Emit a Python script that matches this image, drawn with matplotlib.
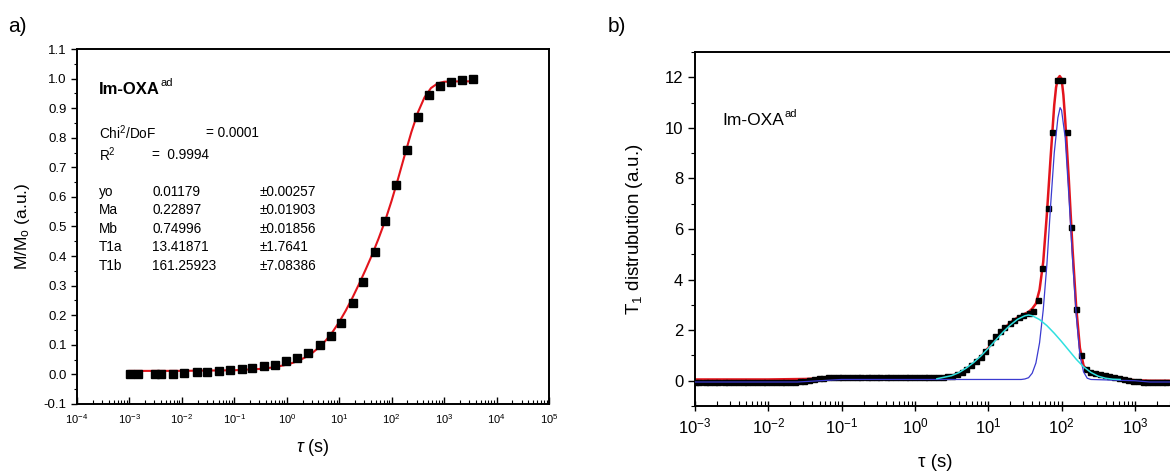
import numpy as np
import matplotlib
matplotlib.use("Agg")
import matplotlib.pyplot as plt
from matplotlib.ticker import LogLocator, MultipleLocator, NullFormatter, FixedLocator

plt.rcParams["font.family"] = ["Liberation Sans", "DejaVu Sans"]
plt.rcParams["mathtext.fontset"] = "custom"
plt.rcParams["mathtext.rm"] = "Liberation Sans"
plt.rcParams["mathtext.it"] = "Liberation Sans:italic"
plt.rcParams["mathtext.bf"] = "Liberation Sans:bold"
plt.rcParams["axes.unicode_minus"] = False

RED, BLUE, CYAN = "#e3141c", "#3a3ad0", "#30e0e0"

# ---------- panel a: magnetisation recovery (log10 tau, M/Mo) ----------
a_logtau = [-2.98, -2.83, -2.51, -2.40, -2.16, -1.95, -1.71, -1.52, -1.30, -1.08,
            -0.86, -0.66, -0.44, -0.23, -0.01, 0.20, 0.41, 0.63, 0.84, 1.03,
            1.26, 1.46, 1.68, 1.88, 2.09, 2.30, 2.51, 2.72, 2.93, 3.14, 3.35, 3.56]
a_m = [0.0, 0.0, 0.002, 0.002, 0.002, 0.005, 0.007, 0.007, 0.010, 0.014,
       0.018, 0.022, 0.028, 0.033, 0.047, 0.055, 0.074, 0.10, 0.13, 0.174,
       0.24, 0.313, 0.414, 0.52, 0.64, 0.76, 0.87, 0.945, 0.975, 0.99, 0.995, 0.998]
# fit line
a_fit_logtau = [-3, -2, -1, -0.5, -0.25, 0, 0.125, 0.25, 0.375, 0.5, 0.625, 0.75, 0.875,
                1, 1.125, 1.25, 1.375, 1.5, 1.625, 1.75, 1.875, 2, 2.125, 2.25, 2.375,
                2.5, 2.625, 2.75, 2.875, 3, 3.25, 3.56]
a_fit = [0.0118, 0.0120, 0.0140, 0.0186, 0.0238, 0.0329, 0.0397, 0.0485, 0.0598, 0.0745,
         0.0929, 0.1159, 0.1439, 0.1772, 0.2156, 0.2582, 0.3042, 0.3527, 0.4035, 0.4589,
         0.5188, 0.5874, 0.6628, 0.7418, 0.8184, 0.8853, 0.9359, 0.9679, 0.9836, 0.9893,
         0.9905, 0.9907]
fit_names = ["yo", "Ma", "Mb", "T1a", "T1b"]
fit_vals = ["0.01179", "0.22897", "0.74996", "13.41871", "161.25923"]
fit_errs = ["\u00b10.00257", "\u00b10.01903", "\u00b10.01856", "\u00b11.7641", "\u00b17.08386"]

# ---------- panel b: T1 distribution (log10 tau) ----------
b_logtau = [-3.00, -2.94, -2.87, -2.81, -2.74, -2.68, -2.61, -2.55, -2.48, -2.42,
            -2.35, -2.29, -2.22, -2.16, -2.09, -2.03, -1.96, -1.90, -1.83, -1.77,
            -1.70, -1.64, -1.57, -1.51, -1.44, -1.38, -1.31, -1.25, -1.18, -1.12,
            -1.05, -0.99, -0.92, -0.86, -0.79, -0.73, -0.66, -0.60, -0.53, -0.47,
            -0.40, -0.34, -0.27, -0.21, -0.14, -0.08, -0.01, 0.05, 0.12, 0.18,
            0.25, 0.31, 0.38, 0.44, 0.51, 0.57, 0.64, 0.70, 0.77, 0.83,
            0.90, 0.96, 1.03, 1.09, 1.16, 1.22, 1.29, 1.35, 1.42, 1.48,
            1.55, 1.61, 1.68, 1.74, 1.81, 1.87, 1.94, 2.00, 2.07, 2.13,
            2.20, 2.26, 2.33, 2.39, 2.46, 2.52, 2.59, 2.65, 2.72, 2.78,
            2.85, 2.91, 2.98, 3.04, 3.11, 3.17, 3.24, 3.30, 3.37, 3.43, 3.50]
b_dist = [-0.05, -0.05, -0.05, -0.05, -0.05, -0.05, -0.05, -0.05, -0.05, -0.05,
          -0.05, -0.05, -0.05, -0.05, -0.05, -0.05, -0.05, -0.05, -0.05, -0.05,
          -0.05, -0.05, -0.03, 0.0, 0.04, 0.07, 0.10, 0.12, 0.13, 0.14,
          0.15, 0.15, 0.15, 0.15, 0.15, 0.15, 0.15, 0.15, 0.15, 0.15,
          0.15, 0.15, 0.15, 0.15, 0.15, 0.15, 0.15, 0.15, 0.15, 0.15,
          0.15, 0.15, 0.16, 0.17, 0.20, 0.26, 0.33, 0.46, 0.62, 0.80,
          0.95, 1.18, 1.53, 1.77, 1.97, 2.12, 2.28, 2.40, 2.52, 2.60,
          2.66, 2.76, 3.20, 4.45, 6.83, 9.84, 11.9, 11.9, 9.84, 6.07,
          2.83, 1.00, 0.46, 0.36, 0.30, 0.26, 0.24, 0.20, 0.16, 0.12,
          0.07, 0.04, 0.0, -0.03, -0.05, -0.05, -0.05, -0.05, -0.05, -0.05, -0.05]
b_red_logtau = [-3.0, -2.0, -1.5, -1.0, 0.0, 0.3, 0.5, 0.6, 0.7, 0.8, 0.9, 1.0, 1.1, 1.2,
                1.3, 1.4, 1.5, 1.55, 1.6, 1.65, 1.7, 1.75, 1.8, 1.85, 1.9, 1.925, 1.95,
                1.975, 2.0, 2.025, 2.05, 2.1, 2.15, 2.2, 2.25, 2.3, 2.35, 2.4, 2.5, 2.6,
                2.7, 2.8, 2.9, 3.0, 3.2, 3.6]
b_red = [0.05, 0.05, 0.07, 0.12, 0.13, 0.15, 0.20, 0.28, 0.45, 0.68, 0.95, 1.30, 1.65, 2.0,
         2.3, 2.5, 2.65, 2.72, 2.85, 3.05, 3.6, 4.7, 6.6, 8.8, 10.9, 11.6, 11.95,
         12.05, 11.95, 11.3, 10.3, 7.9, 5.2, 2.9, 1.3, 0.6, 0.4, 0.33, 0.25, 0.18,
         0.12, 0.08, 0.05, 0.02, 0.0, 0.0]
b_blue_logtau = [-3.0, -1.6, -1.0, 1.45, 1.5, 1.55, 1.6, 1.65, 1.7, 1.75, 1.8, 1.85, 1.9,
                 1.95, 1.98, 2.0, 2.05, 2.1, 2.15, 2.2, 2.25, 2.3, 2.35, 2.4, 3.0, 3.2, 3.6]
b_blue = [-0.05, -0.05, 0.05, 0.05, 0.07, 0.12, 0.3, 0.7, 1.5, 2.8, 4.6, 6.9, 9.0,
          10.4, 10.8, 10.7, 9.6, 7.3, 4.8, 2.6, 1.0, 0.35, 0.1, 0.05, 0.0, -0.05, -0.05]
b_cyan_logtau = [0.3, 0.5, 0.6, 0.7, 0.8, 0.9, 1.0, 1.1, 1.2, 1.3, 1.4, 1.5, 1.55, 1.6,
                 1.7, 1.8, 1.9, 2.0, 2.1, 2.2, 2.3, 2.4, 2.5, 2.6, 2.7, 2.8]
b_cyan = [0.08, 0.2, 0.32, 0.5, 0.72, 0.98, 1.28, 1.6, 1.92, 2.2, 2.43, 2.57, 2.6, 2.57,
          2.42, 2.18, 1.88, 1.55, 1.2, 0.85, 0.55, 0.33, 0.18, 0.1, 0.06, 0.05]
b_xticks = [1e-3, 1e-2, 1e-1, 1e0, 1e1, 1e2, 1e3]

fig = plt.figure(figsize=(11.7, 4.73), dpi=100)

# ---- a) ----
ax = fig.add_axes([0.0658, 0.1459, 0.4034, 0.7505])
ax.plot(10 ** np.array(a_fit_logtau), a_fit, color=RED, lw=1.5, zorder=2)
ax.plot(10 ** np.array(a_logtau), a_m, "s", color="black", ms=5.5, zorder=3)
ax.set_xscale("log")
ax.set_xlim(1e-4, 1e5)
ax.set_ylim(-0.1, 1.1)
ax.xaxis.set_major_locator(LogLocator(base=10, numticks=20))
ax.xaxis.set_minor_locator(LogLocator(base=10, subs=np.arange(2, 10), numticks=20))
ax.xaxis.set_minor_formatter(NullFormatter())
ax.yaxis.set_major_locator(MultipleLocator(0.1))
ax.yaxis.set_minor_locator(MultipleLocator(0.05))
ax.yaxis.set_major_formatter(matplotlib.ticker.FormatStrFormatter("%.1f"))
ax.tick_params(axis="x", which="major", direction="in", length=5, width=1, labelsize=8, pad=6)
ax.tick_params(axis="x", which="minor", direction="in", length=3, width=0.8)
ax.tick_params(axis="y", which="major", direction="out", length=4, width=1, labelsize=9.5)
ax.tick_params(axis="y", which="minor", direction="out", length=2.5, width=0.8)
for s in ax.spines.values():
    s.set_linewidth(1.4)
ax.set_xlabel(r"$\tau$ (s)", fontsize=13, labelpad=8)
ax.set_ylabel(r"M/M$_\mathrm{o}$ (a.u.)", fontsize=12.5, labelpad=8)

t = ax.text(0.047, 0.885, "Im-OXA", transform=ax.transAxes, fontsize=12, fontweight="bold",
            va="center")
ax.annotate("ad", xy=(1.0, 0.62), xycoords=t, fontsize=8, va="bottom")
ax.text(0.047, 0.763, r"Chi$^2$/DoF", transform=ax.transAxes, fontsize=9.8, va="center")
ax.text(0.273, 0.763, "= 0.0001", transform=ax.transAxes, fontsize=9.8, va="center")
ax.text(0.047, 0.701, r"R$^2$", transform=ax.transAxes, fontsize=9.8, va="center")
ax.text(0.159, 0.701, "=  0.9994", transform=ax.transAxes, fontsize=9.8, va="center")
for i, (n, v, e) in enumerate(zip(fit_names, fit_vals, fit_errs)):
    yy = 0.597 - i * 0.0518
    ax.text(0.047, yy, n, transform=ax.transAxes, fontsize=9.8, va="center")
    ax.text(0.159, yy, v, transform=ax.transAxes, fontsize=9.8, va="center")
    ax.text(0.388, yy, e, transform=ax.transAxes, fontsize=9.8, va="center")

# ---- b) ----
bx = fig.add_axes([0.594, 0.1416, 0.5013, 0.7484])
bx.plot(10 ** np.array(b_red_logtau), b_red, color=RED, lw=1.8, zorder=2)
bx.plot(10 ** np.array(b_logtau), b_dist, "s", color="black", ms=3.6, zorder=3)
bx.plot(10 ** np.array(b_blue_logtau), b_blue, color=BLUE, lw=0.9, zorder=4)
bx.plot(10 ** np.array(b_cyan_logtau), b_cyan, color=CYAN, lw=1.1, zorder=4)
bx.set_xscale("log")
bx.set_xlim(1e-3, 1e5)
bx.set_ylim(-1, 13)
bx.xaxis.set_major_locator(FixedLocator(b_xticks))
bx.xaxis.set_minor_locator(LogLocator(base=10, subs=np.arange(2, 10), numticks=20))
bx.xaxis.set_minor_formatter(NullFormatter())
bx.yaxis.set_major_locator(MultipleLocator(2))
bx.yaxis.set_minor_locator(MultipleLocator(1))
bx.tick_params(axis="x", which="major", direction="inout", length=7, width=1, labelsize=12, pad=4)
bx.tick_params(axis="x", which="minor", direction="in", length=3.5, width=0.8)
bx.tick_params(axis="y", which="major", direction="out", length=5, width=1, labelsize=12)
bx.tick_params(axis="y", which="minor", direction="out", length=3, width=0.8)
for s in bx.spines.values():
    s.set_linewidth(1.4)
bx.set_xlabel("\u03c4 (s)", fontsize=13.5)
bx.xaxis.set_label_coords(0.41, -0.135)
bx.set_ylabel(r"T$_1$ distrubution (a.u.)", fontsize=13.5, labelpad=14)
t2 = bx.text(2.4e-3, 10.3, "Im-OXA", fontsize=12.5, va="center")
bx.annotate("ad", xy=(1.0, 0.62), xycoords=t2, fontsize=8, va="bottom")

fig.text(0.007, 0.943, "a)", fontsize=15, va="center")
fig.text(0.519, 0.943, "b)", fontsize=15, va="center")

fig.savefig("out.png", dpi=100)
